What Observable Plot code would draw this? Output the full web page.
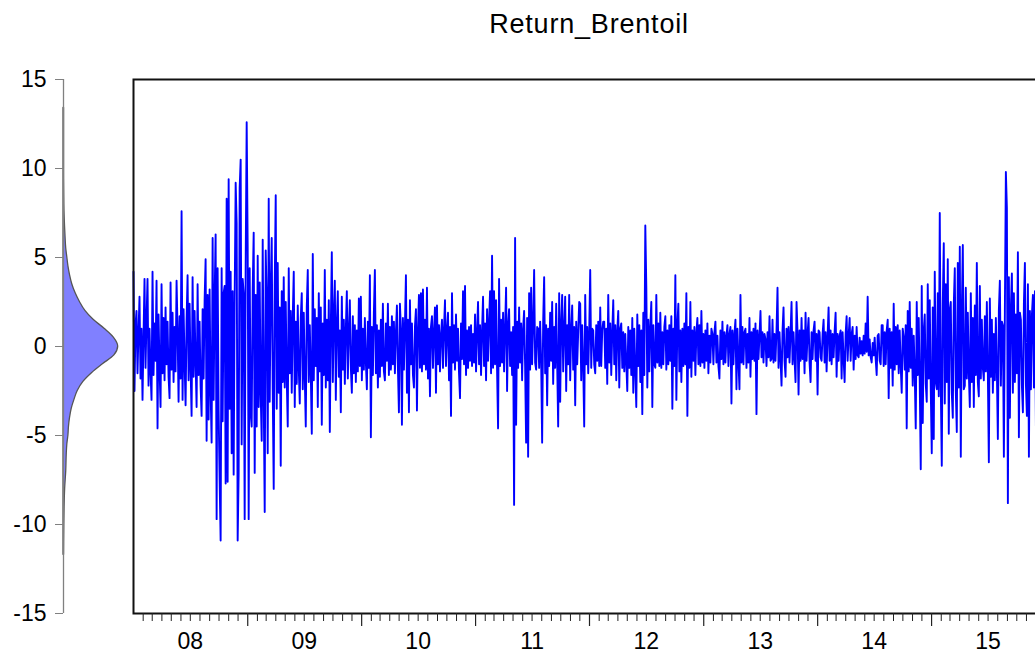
<!DOCTYPE html>
<html><head><meta charset="utf-8">
<script src="https://cdn.jsdelivr.net/npm/d3@7"></script>
<script src="https://cdn.jsdelivr.net/npm/@observablehq/plot@0.6"></script>
<style>
html,body{margin:0;padding:0;background:#fff;overflow:hidden}
#wrap{position:relative;width:1035px;height:655px;overflow:hidden;font-family:"Liberation Sans",Arial,sans-serif}
#title{position:absolute;left:589px;top:9px;transform:translateX(-50%);font-size:27px;letter-spacing:0.8px;white-space:nowrap;color:#000;line-height:normal}
#dens,#main{position:absolute;left:0;top:0}
#wrap svg{max-width:none !important;height:auto}
</style></head><body>
<div id="wrap"><div id="title"></div><div id="main"></div><div id="dens"></div></div>
<script>
const title = "Return_Brentoil";
const startDate = Date.UTC(2008, 0, 1);
const endDate = Date.UTC(2016, 0, 1);
const sampleDays = 3.209; // spacing of the values
const returns = [
4.2,-2.5,1.2,2.0,-1.5,0.8,2.8,-1.8,1.0,-3.0,
0.5,3.8,-1.2,1.5,3.8,-2.2,1.0,-1.4,-3.0,4.2,
-1.6,1.3,-0.8,3.7,-4.6,1.8,-1.2,-3.4,3.5,-1.5,
1.6,-1.9,2.2,-1.0,1.4,-1.7,-2.9,3.6,-1.3,1.9,
-2.0,1.1,-1.4,3.7,0.9,-3.1,1.7,-1.8,7.6,-3.0,
2.1,-0.9,-3.3,1.5,4.0,-1.9,2.4,-1.2,-3.9,3.9,
-1.7,2.0,-0.9,-3.4,3.5,-1.6,1.4,-2.2,-3.9,2.1,
-1.8,2.6,4.9,-5.3,2.9,-4.1,3.2,-2.5,-5.4,6.1,
-3.0,2.8,6.3,-9.7,4.4,-3.6,-7.5,-10.9,4.4,-4.2,
3.0,3.4,-7.7,8.3,-7.6,9.4,-3.5,4.2,-6.0,3.1,
-7.2,2.7,9.2,6.9,-10.9,-7.1,8.9,10.5,-5.5,3.8,
3.0,-9.7,4.6,12.6,5.6,-9.7,4.4,-3.8,-4.5,3.2,
6.4,-7.1,2.9,-4.5,5.1,-3.4,3.6,-2.7,-5.3,6.0,
-2.8,-9.3,5.4,2.6,-6.0,8.3,-3.1,3.3,6.1,-2.4,
-8.0,3.5,8.5,-3.5,4.7,-2.6,2.2,-6.7,3.1,-2.0,
3.9,-2.3,2.5,-1.8,-4.5,4.4,-1.5,2.0,-2.6,1.7,
4.2,-3.4,1.4,-2.1,2.3,-1.2,-3.2,1.6,3.0,-2.4,
1.9,-1.7,-4.5,2.2,4.3,-2.0,1.2,-1.5,-4.9,5.2,
-1.9,2.1,-1.1,1.6,-3.4,3.0,-1.4,2.2,-4.4,1.3,
-1.6,4.3,-2.3,1.5,-1.9,2.6,-4.8,1.1,5.3,-2.0,
1.8,3.7,-3.0,1.2,3.1,-1.7,0.9,-3.7,2.8,-1.3,
1.5,-2.1,1.0,3.1,-1.8,0.8,2.6,-1.2,-2.6,1.7,
-1.5,1.2,-2.0,0.9,-1.4,2.7,-1.1,2.8,-1.9,1.0,
-1.3,1.6,-0.9,-2.4,1.4,-1.2,4.0,-5.1,1.1,-1.6,
1.9,4.3,-1.5,1.2,-2.3,0.9,-1.7,1.5,-1.1,2.4,
-1.4,-1.9,1.3,-0.8,2.4,-1.6,1.1,-1.3,1.7,-1.0,
1.4,-1.5,0.8,2.3,-1.2,-3.7,2.4,1.0,-4.4,1.6,
-1.3,1.2,4.0,-2.6,1.5,-3.7,2.6,-1.0,1.3,-1.6,
-2.3,1.1,2.1,-3.6,0.9,2.9,-1.2,3.0,-1.4,3.2,
-1.0,1.5,-1.3,3.3,-1.8,1.0,-2.8,1.1,1.7,-1.2,
0.8,2.2,-2.6,2.3,-1.0,1.2,-1.4,0.7,1.5,-1.2,
1.0,2.6,-1.1,0.9,1.9,-1.9,1.1,-3.9,3.0,-0.9,
1.2,-1.3,1.8,-0.8,1.0,-1.5,-2.9,1.3,-0.7,3.1,
-1.0,3.4,-1.6,0.9,-1.2,1.1,-0.8,1.2,-1.1,0.7,
-0.9,1.8,-1.4,0.8,2.5,-1.0,1.2,-1.6,0.9,2.8,
-1.1,1.3,-1.9,2.1,-0.8,1.4,3.1,-1.5,5.1,-1.2,
3.1,-1.0,2.6,-1.3,-4.6,3.8,-1.1,1.5,-0.9,1.9,
-1.4,1.0,3.3,-2.5,1.2,2.1,-1.1,0.8,-1.6,1.1,
-8.9,6.1,-4.4,1.4,-1.2,2.2,-0.9,1.3,-1.9,1.0,
2.0,-1.1,-5.4,1.6,-6.2,3.0,-1.3,3.3,-1.0,1.2,
4.3,-0.9,-1.3,1.1,1.0,-1.2,1.4,-0.8,-5.4,1.3,
3.9,-1.5,1.2,-3.3,1.0,-1.1,1.9,-0.8,2.5,-2.1,
1.1,-1.2,2.4,-0.9,-4.5,3.0,-3.1,1.3,2.9,-1.4,
1.0,2.8,-2.5,1.2,-1.0,2.9,-1.9,0.9,2.3,-1.3,
1.1,-3.3,1.4,-1.0,0.8,2.5,2.4,-1.9,1.2,-1.1,
-4.5,2.9,-1.0,1.1,-1.5,0.9,4.3,-1.2,1.0,0.9,
-1.0,-1.5,1.2,-0.8,1.4,-1.1,2.2,-1.1,0.9,1.4,
1.4,-1.2,1.0,-2.1,2.9,-0.9,1.3,-1.6,0.8,2.6,
-1.0,1.2,-1.9,0.9,2.0,-2.3,1.0,1.3,-1.2,0.8,
-1.4,0.7,-0.9,-2.5,1.1,-1.2,0.9,-1.6,1.6,-2.6,
1.0,-1.3,-3.4,1.8,-1.1,1.2,-2.0,0.9,-3.8,1.9,
-1.6,6.8,3.4,-2.3,1.5,-1.4,1.1,2.5,-3.4,1.2,
-1.0,-1.2,2.9,-0.9,1.3,-1.1,1.9,-1.2,0.8,-1.0,
1.1,1.7,-1.3,0.9,-1.0,1.2,-0.8,1.7,-3.5,1.0,
-1.1,4.0,-3.0,1.2,2.4,-1.4,0.9,-2.0,1.0,-1.1,
1.3,-1.0,3.0,-3.9,1.1,-1.2,2.5,-1.7,0.9,-0.8,
1.1,-1.6,0.8,1.6,-1.0,1.2,-1.1,2.0,-0.9,0.7,
-1.2,0.9,-0.8,1.3,-1.5,0.6,-0.9,1.0,0.7,-1.0,
0.8,1.4,-0.9,0.6,-1.1,-1.8,0.9,-0.7,1.4,-1.0,
0.8,-0.9,0.6,1.2,-1.1,0.7,1.1,-3.2,0.9,-1.0,
0.7,1.5,-2.4,1.0,-0.8,-2.4,2.9,-0.9,1.1,-1.0,
0.8,1.0,-1.2,0.7,-0.9,1.6,-1.7,0.8,-0.7,1.0,
-0.8,1.3,-3.8,0.9,-0.7,0.6,2.0,-0.6,0.8,-0.9,
0.7,0.4,-1.1,0.8,-0.6,1.7,-0.8,-0.7,1.5,-0.9,
0.7,-0.8,0.9,3.3,-1.2,0.8,-0.7,-2.2,0.9,2.2,
-0.8,-1.7,1.0,-0.6,1.1,-0.9,0.7,2.5,-1.0,0.8,
-0.7,-2.0,2.5,0.8,-2.7,0.9,-0.8,1.6,-0.7,0.9,
-1.5,1.9,-0.8,0.7,1.6,-0.9,-2.0,0.8,-0.7,0.9,
1.4,-0.8,0.7,-2.7,0.9,0.8,-0.6,-0.8,0.7,1.5,
-0.9,0.8,-1.4,0.6,2.2,-0.8,0.9,-1.0,0.7,-0.6,
0.8,1.9,-1.7,0.7,-0.8,0.6,0.9,-1.8,0.8,-0.7,
-2.0,0.7,1.7,-0.8,0.6,1.6,-0.8,0.7,1.1,-1.3,
0.6,-0.7,1.1,-0.5,-0.6,0.5,-0.4,0.3,-0.5,0.6,
-0.4,1.3,-0.3,2.8,-0.5,0.4,-0.6,-0.9,0.2,-0.5,
0.5,-0.7,-1.6,0.6,0.7,-0.8,-1.0,1.2,1.2,-1.1,
0.8,-1.0,0.9,1.5,-2.9,1.0,-1.2,0.8,-2.2,2.4,
-1.3,1.1,-1.0,1.2,-1.5,0.9,-1.1,-2.6,1.0,0.5,
-1.3,1.2,-4.6,2.0,-1.4,2.5,-1.2,1.0,-2.2,0.6,
-1.5,-4.6,2.5,-1.6,1.6,-2.0,-6.9,3.4,-4.3,0.9,
1.8,-2.1,-3.1,3.5,-1.8,2.6,-2.4,-6.0,2.2,-5.2,
4.2,-2.0,-2.4,3.0,-2.8,7.5,-2.2,-6.7,2.4,5.8,
-3.2,3.5,-2.0,4.9,-4.9,2.1,2.5,-2.6,-4.0,2.4,
4.4,-2.5,-4.8,4.7,-2.3,5.6,-6.2,2.0,5.7,-2.4,
-2.2,3.3,-1.8,1.9,-1.5,-3.4,3.0,-2.0,1.6,-3.4,
2.3,-1.6,4.7,-2.0,-2.8,3.4,-1.8,1.5,-1.2,-1.9,
1.7,-1.4,2.5,-1.5,-6.5,2.7,-1.7,1.5,-2.6,0.7,
-1.9,1.6,-1.3,-5.2,2.0,3.7,-2.2,1.4,1.2,-6.2,
2.0,9.8,7.8,-8.8,3.9,-4.0,2.2,4.1,-2.6,3.0,
-2.0,1.8,-1.5,5.3,-5.1,1.9,1.5,-2.2,-3.7,2.4,
4.7,-2.1,-3.9,3.5,-6.2,2.0,-2.4,1.8,2.9,-2.3,
3.1,-4.5,2.2,-2.8,3.0,-2.0,2.6,-3.1,1.9,-2.4,2.1
];
const densityLevels = [-11.7,-10,-9,-8,-7,-6,-5.5,-5,-4.5,-4,-3.5,-3,-2.5,-2,-1.5,-1,-0.5,0,0.5,1,1.5,2,2.5,3,3.5,4,4.5,5,5.5,6.3,8,10,13.4];
const densityValues = [0.01,0.015,0.02,0.03,0.05,0.06,0.07,0.09,0.1,0.12,0.15,0.2,0.26,0.36,0.52,0.72,0.93,1.0,0.92,0.75,0.55,0.4,0.3,0.22,0.16,0.12,0.09,0.07,0.05,0.035,0.015,0.01,0.01];
const yTicks = [-15,-10,-5,0,5,10,15];
const yearLabels = ["08","09","10","11","12","13","14","15"];

document.getElementById("title").textContent = title;

const font = '"Liberation Sans", Arial, sans-serif';
const series = returns.map((v, i) => ({date: new Date(startDate + i * sampleDays * 864e5), value: v}));
const months = d3.utcMonth.range(new Date(startDate), new Date(endDate)).filter(d => d.getUTCMonth() !== 0);
const years = d3.utcYear.range(new Date(Date.UTC(2009,0,1)), new Date(endDate));
const labelPos = yearLabels.map((l, i) => ({label: l, date: new Date(Date.UTC(2008 + i, 6, 1))}));

const main = Plot.plot({
  width: 1046, height: 655,
  marginLeft: 133, marginRight: 1, marginTop: 79, marginBottom: 42,
  style: {fontFamily: font, fontSize: "23px", color: "#000", background: "transparent", overflow: "visible", maxWidth: "none"},
  x: {type: "utc", domain: [new Date(startDate), new Date(endDate)], label: null},
  y: {domain: [-15, 15], axis: null, label: null},
  marks: [
    Plot.line(series, {x: "date", y: "value", stroke: "#0000ff", strokeWidth: 1.9}),
    Plot.frame({stroke: "#111", strokeWidth: 2}),
    Plot.axisX(months, {tickSize: 8, tickFormat: () => "", stroke: "#222", strokeWidth: 1, label: null}),
    Plot.axisX(years, {tickSize: 13, tickFormat: () => "", stroke: "#222", strokeWidth: 1.2, label: null}),
    Plot.text(labelPos, {x: "date", text: "label", frameAnchor: "bottom", dy: 28, lineAnchor: "middle", fontSize: 23, fill: "#000"})
  ]
});
document.getElementById("main").appendChild(main);

const densPts = densityLevels.map((v, i) => ({v, d: densityValues[i]}));
const dens = Plot.plot({
  width: 133, height: 655,
  marginLeft: 63, marginRight: 15.3, marginTop: 79, marginBottom: 42,
  style: {fontFamily: font, fontSize: "23px", color: "#000", background: "transparent", overflow: "visible", maxWidth: "none"},
  x: {domain: [0, 1], axis: null, label: null},
  y: {domain: [-15, 15], axis: null, label: null},
  marks: [
    Plot.areaX(densPts, {y: "v", x1: 0, x2: "d", fill: "#8080ff", stroke: "#555", strokeWidth: 1.3, curve: "monotone-y"}),
    Plot.ruleX([0], {y1: -15, y2: 15, stroke: "#808080", strokeWidth: 1.3}),
    Plot.axisY(yTicks, {anchor: "left", tickSize: 8, tickPadding: 9, stroke: "#808080", fill: "#000", fontSize: 23, tickFormat: d => String(d), label: null})
  ]
});
document.getElementById("dens").appendChild(dens);
</script>
</body></html>
